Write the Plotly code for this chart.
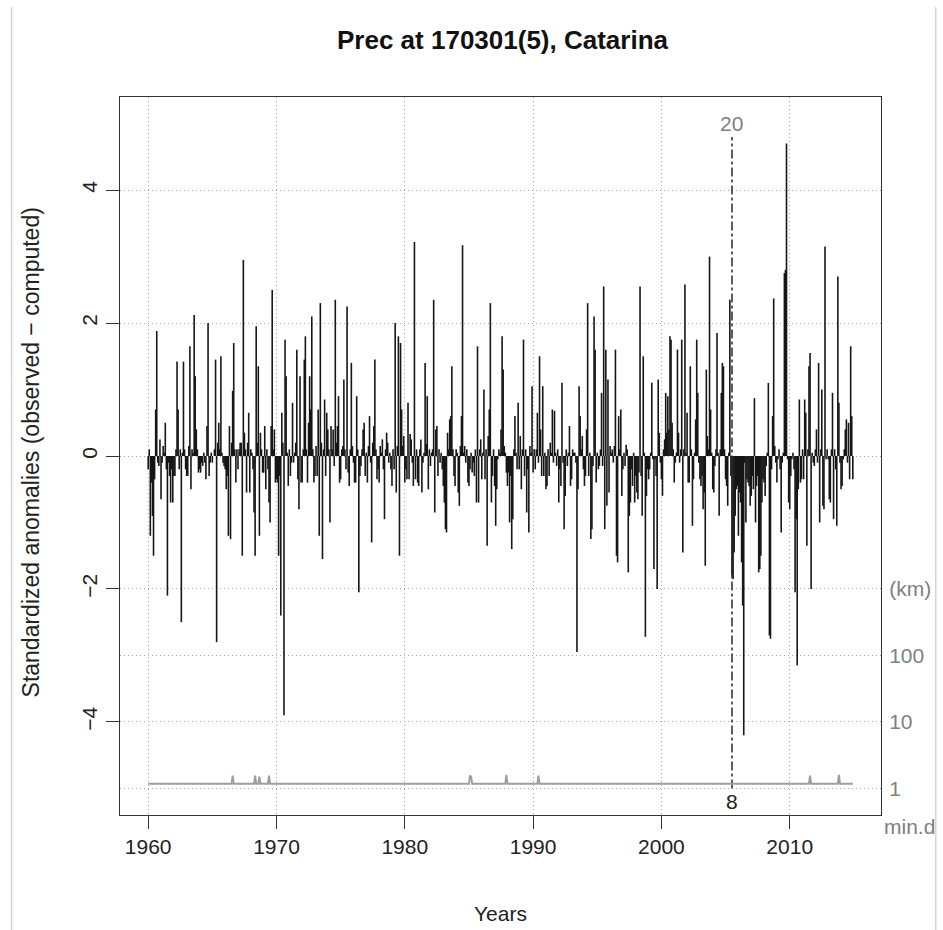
import math
import plotly.graph_objects as go

# ---------------- data ----------------
start_year = 1960  # first month = Jan 1960, monthly series

anom_1960s = [
    -0.2, 0.1, -1.2, -0.4, -0.9, -1.5, -0.35, 0.7, 1.88, -0.1, -0.15, 0.25,
    -0.65, -0.1, 0.15, 0.05, 0.5, -0.2, -2.1, -0.1, -0.3, -0.7, -0.2, -0.7,
    -0.3, -0.3, 0.1, 1.42, 0.7, -0.2, 0.1, -2.5, 0.05, 1.42, 0.1, -0.2,
    -0.3, -0.3, 0.15, 1.65, -0.5, 0.1, 0.05, 2.12, 1.2, 0.4, 0.1, -0.25,
    -0.2, -0.25, -0.1, -0.15, 0.05, -0.1, -0.35, 0.45, 2.0, -0.3, -0.1, 0.05,
    -0.1, 0.0, 0.1, 1.45, -2.8, 0.2, 0.5, 0.1, 1.5, 0.05, -0.1, -0.15,
    -0.2, -0.5, -0.3, -1.2, 0.45, -1.25, 0.2, 0.98, 1.7, 0.1, -0.4, 0.1,
    -0.2, 0.1, 0.2, 0.2, -1.5, 2.95, 0.35, 0.1, -0.55, 0.2, 0.65, -0.55,
    0.1, 0.05, -0.2, -0.85, -1.5, 1.95, 0.2, 1.35, -1.2, 0.35, 0.1, -0.25,
    -0.25, 0.45, -0.5, 0.1, -0.2, -0.7, -1.0, 0.45, 2.5, 0.1, 0.4, -0.4,
]
anom_1970s = [
    -0.35, -0.4, -1.5, -0.3, -2.4, 0.65, 0.2, -3.9, 1.75, 1.2, 0.05, -0.45,
    0.1, -0.3, -0.1, 0.8, -0.1, 0.05, 0.2, 1.6, -0.35, -0.8, 1.2, -0.4,
    -0.4, 0.1, 1.45, 1.8, 0.1, -0.4, 0.5, 1.2, 0.7, 2.1, 0.1, -0.4,
    -0.3, 0.15, -0.3, 0.7, -1.2, 2.3, 0.2, -1.55, 0.1, 0.85, -0.3, 0.65,
    0.4, 0.1, -1.0, 0.45, 0.1, 0.4, -0.15, 2.35, 0.2, 0.45, 0.9, -0.4,
    -0.35, 0.1, 0.15, 1.15, 0.1, -0.2, 2.25, -0.25, -0.45, 0.1, 1.4, 0.15,
    -0.1, -0.4, -0.4, 0.9, 0.1, -2.05, -0.3, -0.15, 0.1, 0.4, 0.5, -0.3,
    0.05, -0.4, 0.15, 0.6, -0.1, -1.3, 0.2, 0.45, 1.45, 0.1, -0.35, -0.2,
    -0.4, 0.15, 0.05, 0.25, -0.2, -0.95, 0.1, 0.35, 0.2, -0.1, 0.05, -0.2,
    -0.45, 0.1, -0.2, 2.0, -0.55, 0.15, 1.8, -1.5, 1.7, 0.7, 0.15, 0.3,
]
anom_1980s = [
    -0.4, -0.2, -0.35, 0.8, -0.35, 0.33, 0.25, -0.1, -0.45, 3.22, -0.35, 0.1,
    -0.4, -0.45, 0.1, 0.25, -0.55, -0.1, 0.05, 1.4, 0.18, 0.9, -0.5, 0.1,
    -0.15, 0.05, 0.1, 2.35, -0.85, 0.4, 0.45, -0.3, 0.1, -0.1, 0.05, -0.2,
    -0.45, -0.7, -1.1, -1.15, 0.35, 0.1, 0.55, 0.6, 1.35, 0.1, -0.3, -0.45,
    0.1, 0.05, -0.55, -0.75, 0.15, 0.6, 3.17, 0.05, 0.15, -0.1, 0.1, -0.4,
    -0.45, -0.2, 0.05, -0.25, -0.1, -0.3, 0.1, -0.7, 1.65, -0.7, 0.1, 0.25,
    -0.35, 0.05, 1.0, -0.35, 0.1, -1.35, 0.3, 0.7, 2.3, -0.7, -0.3, 0.1,
    -0.45, -1.05, -0.5, -0.05, 0.1, 0.05, 0.4, 1.8, 1.3, 0.15, 0.05, -0.25,
    -0.45, -0.25, -1.0, -0.3, -1.4, -0.95, 0.1, 0.6, 0.05, -0.2, 0.8, -0.2,
    0.3, -0.5, 0.1, 1.75, -0.3, 0.1, -0.85, -0.2, -1.15, 0.15, 0.05, 1.05,
]
anom_1990s = [
    -0.25, 0.1, -0.2, 0.1, 0.65, -0.1, 1.5, 0.4, -0.3, 1.05, -0.3, 0.05,
    -0.5, -0.45, 0.1, -0.3, 0.2, 0.05, 0.7, -0.1, 0.68, 0.05, -0.15, 0.1,
    -0.7, -0.2, -0.45, 1.1, -0.1, -1.1, -0.6, 0.1, -0.15, 0.05, 0.45, -0.45,
    -0.35, 0.1, 0.05, 0.05, -0.1, -2.95, -0.5, 1.05, 0.6, 0.1, 0.3, -0.2,
    -0.45, -0.3, 0.4, 2.3, -0.3, 0.05, -1.25, -1.1, -0.15, 2.1, 1.6, -0.4,
    0.05, -0.2, -0.15, 0.1, 0.95, -0.15, 2.55, -1.1, 1.6, -0.75, 1.15, -0.55,
    0.15, 0.05, 0.1, -0.1, 0.15, 1.6, -1.5, -1.6, 0.6, 0.1, 0.7, -0.6,
    -0.2, 0.05, -0.15, 0.17, 0.1, -1.75, -0.9, -0.7, -0.2, -0.45, 0.05, -0.7,
    -0.3, -0.55, -0.65, -0.25, 2.55, -0.3, -0.9, 1.5, 0.05, -2.72, -0.6, -0.2,
    -0.35, -0.2, 0.05, 1.1, -0.05, -1.7, -0.05, -0.3, -2.0, 1.15, 0.35, -0.1,
]
anom_2000s = [
    -0.35, -0.6, 0.1, 0.25, 0.95, 0.35, 0.9, 0.4, 1.8, 1.75, 0.5, 0.1,
    -0.4, -0.1, 0.05, 1.6, 0.35, -0.1, 0.1, 1.75, -1.45, 0.1, 2.58, 0.05,
    0.65, -0.4, -0.4, 1.35, 0.1, -1.05, -0.35, 0.05, 0.55, 1.75, 0.95, -0.1,
    -0.35, -0.45, -0.3, -0.8, -0.55, -1.65, 1.3, 0.3, 0.1, 3.0, 0.7, 0.05,
    -0.5, -0.55, -0.15, 0.1, 1.85, 0.05, -0.9, 0.1, 0.95, 1.4, 1.35, 0.1,
    -0.35, -0.45, -0.75, 0.05, 2.35, -0.3, -1.8, -1.85, -1.45, -0.9, -0.5, -0.45,
    -1.2, -0.55, -0.7, -1.6, -2.25, -4.2, -0.1, -1.0, -0.35, -0.4, -0.45, -0.75,
    -0.6, -0.3, -0.5, 0.87, -1.0, -0.45, -0.3, -1.75, -1.7, -1.5, -0.7, -0.35,
    -0.4, -0.6, -0.15, 0.05, 1.1, -2.7, -2.75, -0.2, 0.6, 2.37, 0.15, -0.1,
    -0.4, -0.05, 0.1, -0.2, -1.15, -0.1, 0.05, 2.75, 2.8, 4.7, -0.05, -0.7,
]
anom_2010s = [
    -0.8, -0.3, -0.05, 0.05, -0.2, -2.05, -0.95, -3.15, -0.5, 0.85, -0.4, -0.35,
    0.1, -0.35, 0.85, 0.65, -1.35, 0.1, 1.35, 1.55, -2.0, 0.05, -0.1, -0.15,
    0.1, 0.4, -0.1, 1.4, -1.0, 0.1, 1.0, -0.75, -0.8, 3.15, -0.05, 0.1,
    -0.05, -0.65, -0.7, 0.1, 0.95, -0.95, 0.1, -0.2, -1.05, 2.7, 0.8, -0.1,
    -0.5, -0.45, -0.05, 0.1, 0.4, 0.55, -0.1, 0.5, -0.35, 1.65, 0.6, -0.35,
]

# minimum distance to nearest neighbour station (km)
mind_base_km = 1.17
mind_spike_years = [1966.6, 1968.3, 1968.7, 1969.4, 1985.1, 1985.2, 1987.9, 1990.4, 2011.6, 2013.8]
mind_spike_km = [1.55, 1.55, 1.5, 1.55, 1.55, 1.5, 1.6, 1.55, 1.55, 1.6]

# detected break
break_year = 2005.5
break_label_top = "20"
break_label_bottom = "8"
break_ymin, break_ymax = -5.0, 4.8

title_text = "Prec at 170301(5), Catarina"
x_title = "Years"
y_title = "Standardized anomalies (observed \u2212 computed)"
x_ticks = [1960, 1970, 1980, 1990, 2000, 2010]
y_ticks = [-4, -2, 0, 2, 4]
km_ticks = [-5, -4, -3, -2]
km_labels = ["1", "10", "100", "(km)"]

# ---------------- build ----------------
anom = anom_1960s + anom_1970s + anom_1980s + anom_1990s + anom_2000s + anom_2010s
times = [start_year + i / 12 for i in range(len(anom))]

hx, hy = [], []
for t, v in zip(times, anom):
    hx += [t, t, None]
    hy += [0, v, None]

spike_idx = {round((yr - start_year) * 12): km for yr, km in zip(mind_spike_years, mind_spike_km)}
mind_km = [spike_idx.get(i, mind_base_km) for i in range(len(anom))]
mind_y = [-5 + math.log10(k) for k in mind_km]

FONT = "Liberation Sans, Arial, sans-serif"
BASE = 21
GRID = "#a8a8a8"
GDASH = "1px,3px"

fig = go.Figure()
fig.add_trace(go.Scatter(x=hx, y=hy, mode="lines", line=dict(color="#161616", width=1.6),
                         hoverinfo="skip", showlegend=False))
fig.add_trace(go.Scatter(x=times, y=mind_y, mode="lines", line=dict(color="#9e9e9e", width=2),
                         yaxis="y2", hoverinfo="skip", showlegend=False))
fig.add_trace(go.Scatter(x=[break_year, break_year], y=[break_ymin, break_ymax], mode="lines",
                         line=dict(color="#2a2a2a", width=1.5, dash="dashdot"),
                         hoverinfo="skip", showlegend=False))

xr = [1960 - 0.04 * (times[-1] - times[0]), times[-1] + 0.04 * (times[-1] - times[0])]
yr = [-5.4, 5.4]

fig.update_layout(
    width=943, height=930,
    margin=dict(l=120, r=57, t=97, b=115),
    paper_bgcolor="white", plot_bgcolor="white",
    font=dict(family=FONT, size=BASE, color="#222"),
    title=dict(text="<b>" + title_text + "</b>", x=(502.5) / 943, xanchor="center",
               y=1 - 40 / 930, yanchor="middle", yref="container",
               font=dict(size=26, color="#111", family=FONT)),
    xaxis=dict(range=xr, tickvals=x_ticks, ticks="outside", ticklen=13, tickwidth=1.2,
               tickcolor="#333", showline=True, linecolor="#333", linewidth=1.3, mirror=True,
               showgrid=True, gridcolor=GRID, griddash=GDASH, gridwidth=1, zeroline=False,
               tickfont=dict(size=BASE, color="#222")),
    yaxis=dict(range=yr, tickvals=y_ticks, ticktext=[("\u2212" + str(-v)) if v < 0 else str(v) for v in y_ticks],
               tickangle=-90, ticks="outside", ticklen=13, tickwidth=1.2, tickcolor="#333",
               showline=True, linecolor="#333", linewidth=1.3, mirror=True,
               showgrid=True, gridcolor=GRID, griddash=GDASH, gridwidth=1, zeroline=False,
               tickfont=dict(size=BASE, color="#222")),
    yaxis2=dict(range=yr, overlaying="y", side="right", tickvals=km_ticks, ticktext=km_labels,
                ticks="outside", ticklen=3, tickcolor="rgba(0,0,0,0)", showline=False,
                showgrid=True, gridcolor=GRID, griddash=GDASH, gridwidth=1, zeroline=False,
                tickfont=dict(size=BASE, color="#808080")),
    annotations=[
        dict(text=x_title, xref="paper", yref="paper", x=0.5, y=(815 - 913) / 718,
             xanchor="center", yanchor="middle", showarrow=False, font=dict(size=BASE, color="#222")),
        dict(text=y_title, xref="paper", yref="paper", x=(31 - 120) / 765, y=(815 - 452) / 718,
             xanchor="center", yanchor="middle", textangle=-90, showarrow=False,
             font=dict(size=23, color="#222")),
        dict(text="min.d", xref="paper", yref="paper", x=(886 - 120) / 765, y=(815 - 826) / 718,
             xanchor="left", yanchor="middle", showarrow=False, font=dict(size=BASE, color="#808080")),
        dict(text=break_label_top, x=break_year, y=5.0, xref="x", yref="y", xanchor="center",
             yanchor="middle", showarrow=False, font=dict(size=BASE, color="#808080")),
        dict(text=break_label_bottom, x=break_year, y=-5.2, xref="x", yref="y", xanchor="center",
             yanchor="middle", showarrow=False, font=dict(size=BASE, color="#222")),
    ],
    shapes=[
        dict(type="line", xref="paper", yref="paper", x0=(11 - 120) / 765, x1=(11 - 120) / 765,
             y0=(815 - 7) / 718, y1=(815 - 930) / 718, line=dict(color="#d4d4d4", width=1.5)),
        dict(type="line", xref="paper", yref="paper", x0=(940 - 120) / 765, x1=(940 - 120) / 765,
             y0=(815 - 7) / 718, y1=(815 - 930) / 718, line=dict(color="#d4d4d4", width=1.5)),
    ],
)

fig.write_html("out.html")
